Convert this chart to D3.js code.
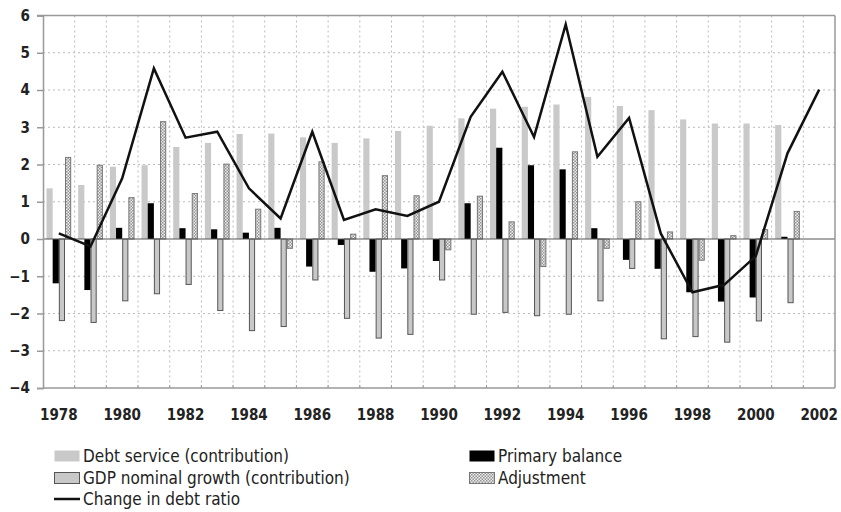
<!DOCTYPE html>
<html>
<head>
<meta charset="utf-8">
<script src="https://cdn.jsdelivr.net/npm/d3@7"></script>
<style>
  body { margin: 0; background: #fff; }
  text { font-family: "DejaVu Sans Condensed", "Liberation Sans Narrow", sans-serif; fill: #222; }
</style>
</head>
<body>
<div id="chart"></div>
<script>
const years = d3.range(1978, 2003);
const debtService = [1.36, 1.45, 1.94, 1.98, 2.47, 2.58, 2.82, 2.83, 2.73, 2.58, 2.70, 2.90, 3.04, 3.24, 3.50, 3.55, 3.61, 3.81, 3.57, 3.46, 3.21, 3.10, 3.10, 3.06, null];
const primaryBalance = [-1.19, -1.37, 0.30, 0.96, 0.29, 0.26, 0.17, 0.30, -0.74, -0.16, -0.88, -0.79, -0.59, 0.96, 2.45, 1.98, 1.87, 0.29, -0.56, -0.80, -1.43, -1.68, -1.57, 0.06, null];
const gdpGrowth = [-2.19, -2.24, -1.66, -1.47, -1.22, -1.92, -2.46, -2.35, -1.10, -2.13, -2.66, -2.56, -1.10, -2.02, -1.97, -2.06, -2.02, -1.66, -0.79, -2.68, -2.62, -2.77, -2.20, -1.71, null];
const adjustment = [2.19, 1.98, 1.11, 3.15, 1.22, 2.01, 0.80, -0.25, 2.07, 0.13, 1.70, 1.16, -0.29, 1.15, 0.46, -0.74, 2.34, -0.25, 1.00, 0.19, -0.57, 0.09, 0.25, 0.74, null];
const debtChange = [0.15, -0.20, 1.63, 4.58, 2.72, 2.88, 1.36, 0.55, 2.88, 0.51, 0.80, 0.62, 1.00, 3.28, 4.49, 2.74, 5.76, 2.21, 3.25, 0.15, -1.43, -1.23, -0.46, 2.30, 4.01];
const yTicks = [-4, -3, -2, -1, 0, 1, 2, 3, 4, 5, 6];
const xLabels = d3.range(1978, 2003, 2);

const series = [
  { key: "debt", name: "Debt service (contribution)", values: debtService },
  { key: "pb", name: "Primary balance", values: primaryBalance },
  { key: "gdp", name: "GDP nominal growth (contribution)", values: gdpGrowth },
  { key: "adj", name: "Adjustment", values: adjustment }
];

const width = 841, height = 512;
const mLeft = 43, mRight = 835, mTop = 15.5, mBottom = 388;

const svg = d3.select("#chart").append("svg")
  .attr("width", width)
  .attr("height", height);

const defs = svg.append("defs");
const pat = defs.append("pattern")
  .attr("id", "hatch")
  .attr("patternUnits", "userSpaceOnUse")
  .attr("width", 3).attr("height", 3);
pat.append("rect").attr("width", 3).attr("height", 3).attr("fill", "#ececec");
pat.append("rect").attr("width", 1.5).attr("height", 1.5).attr("fill", "#959595");
pat.append("rect").attr("x", 1.5).attr("y", 1.5).attr("width", 1.5).attr("height", 1.5).attr("fill", "#959595");

const x = d3.scaleBand().domain(years).range([mLeft, mRight]).padding(0);
const x1 = d3.scaleBand().domain(series.map(s => s.key)).range([3.5, x.bandwidth() - 3.5]).padding(0);
const y = d3.scaleLinear().domain([-4, 6]).range([mBottom, mTop]);

// grid
svg.append("g").selectAll("line")
  .data(yTicks.filter(t => t !== -4 && t !== 0 && t !== 6))
  .enter().append("line")
  .attr("x1", mLeft).attr("x2", mRight)
  .attr("y1", d => y(d)).attr("y2", d => y(d))
  .attr("stroke", "#bbb").attr("stroke-dasharray", "2,3");

svg.append("g").selectAll("line")
  .data(years.slice(1))
  .enter().append("line")
  .attr("x1", d => x(d)).attr("x2", d => x(d))
  .attr("y1", mTop).attr("y2", mBottom)
  .attr("stroke", "#bbb").attr("stroke-dasharray", "2,3");

// bars
const styles = {
  debt: { fill: "#c9c9c9", stroke: "none" },
  pb: { fill: "#000", stroke: "none" },
  gdp: { fill: "#c8c8c8", stroke: "#555" },
  adj: { fill: "url(#hatch)", stroke: "#777" }
};

series.forEach(s => {
  const outlined = styles[s.key].stroke !== "none";
  svg.append("g").selectAll("rect")
    .data(years.map((yr, i) => ({ yr, v: s.values[i] })).filter(d => d.v !== null))
    .enter().append("rect")
    .attr("x", d => x(d.yr) + x1(s.key) + (outlined ? 0.5 : 0))
    .attr("width", x1.bandwidth() - (outlined ? 1 : 0))
    .attr("y", d => y(Math.max(0, d.v)))
    .attr("height", d => Math.abs(y(d.v) - y(0)))
    .attr("fill", styles[s.key].fill)
    .attr("stroke", styles[s.key].stroke)
    .attr("stroke-width", 1);
});

// zero line
svg.append("line")
  .attr("x1", mLeft).attr("x2", mRight)
  .attr("y1", y(0)).attr("y2", y(0))
  .attr("stroke", "#555").attr("stroke-width", 1.2);

// frame
svg.append("line").attr("x1", mLeft - 6).attr("x2", mRight).attr("y1", mTop).attr("y2", mTop)
  .attr("stroke", "#999").attr("stroke-width", 1.5);
svg.append("line").attr("x1", mRight).attr("x2", mRight).attr("y1", mTop).attr("y2", mBottom)
  .attr("stroke", "#999").attr("stroke-width", 1.5);
svg.append("line").attr("x1", mLeft).attr("x2", mRight).attr("y1", mBottom).attr("y2", mBottom)
  .attr("stroke", "#999").attr("stroke-width", 1.5);

// y axis
const yAxis = svg.append("g")
  .attr("transform", `translate(${mLeft},0)`)
  .call(d3.axisLeft(y).tickValues(yTicks).tickSize(6).tickPadding(7).tickFormat(d3.format("d")));
yAxis.select(".domain").attr("stroke", "#999").attr("stroke-width", 1.5);
yAxis.selectAll(".tick line").attr("stroke", "#999").attr("stroke-width", 1.5);
yAxis.selectAll("text").attr("font-size", 15).attr("font-weight", "bold").attr("fill", "#333")
  .style("font-family", "'DejaVu Sans Condensed', sans-serif");

// x axis
const xAxis = svg.append("g")
  .attr("transform", `translate(0,${mBottom})`)
  .call(d3.axisBottom(x).tickValues(xLabels).tickSize(0).tickPadding(21));
xAxis.select(".domain").remove();
xAxis.selectAll("text").attr("font-size", 15).attr("font-weight", "bold").attr("fill", "#333")
  .style("font-family", "'DejaVu Sans Condensed', sans-serif");

svg.append("g").selectAll("line")
  .data(years.slice(1))
  .enter().append("line")
  .attr("x1", d => x(d)).attr("x2", d => x(d))
  .attr("y1", mBottom - 3).attr("y2", mBottom)
  .attr("stroke", "#999");

// line
const line = d3.line()
  .x((d, i) => x(years[i]) + x.bandwidth() / 2)
  .y(d => y(d));
svg.append("path")
  .datum(debtChange)
  .attr("d", line)
  .attr("fill", "none")
  .attr("stroke", "#111")
  .attr("stroke-width", 2.5)
  .attr("stroke-linejoin", "miter");

// legend
const legend = [
  { name: series[0].name, style: styles.debt, lx: 54, ly: 456 },
  { name: series[2].name, style: styles.gdp, lx: 54, ly: 478 },
  { name: "Change in debt ratio", style: null, lx: 54, ly: 499 },
  { name: series[1].name, style: styles.pb, lx: 469, ly: 456 },
  { name: series[3].name, style: styles.adj, lx: 469, ly: 478 }
];
const lg = svg.append("g");
legend.forEach(l => {
  if (l.style) {
    lg.append("rect")
      .attr("x", l.lx + 0.5).attr("y", l.ly - 5.5)
      .attr("width", 25).attr("height", 11)
      .attr("fill", l.style.fill)
      .attr("stroke", l.style.stroke === "none" ? null : l.style.stroke);
  } else {
    lg.append("line")
      .attr("x1", l.lx).attr("x2", l.lx + 26)
      .attr("y1", l.ly).attr("y2", l.ly)
      .attr("stroke", "#111").attr("stroke-width", 2.5);
  }
  lg.append("text")
    .attr("x", l.lx + 29).attr("y", l.ly)
    .attr("dy", "0.36em")
    .attr("font-size", 17)
    .text(l.name);
});
</script>
</body>
</html>
